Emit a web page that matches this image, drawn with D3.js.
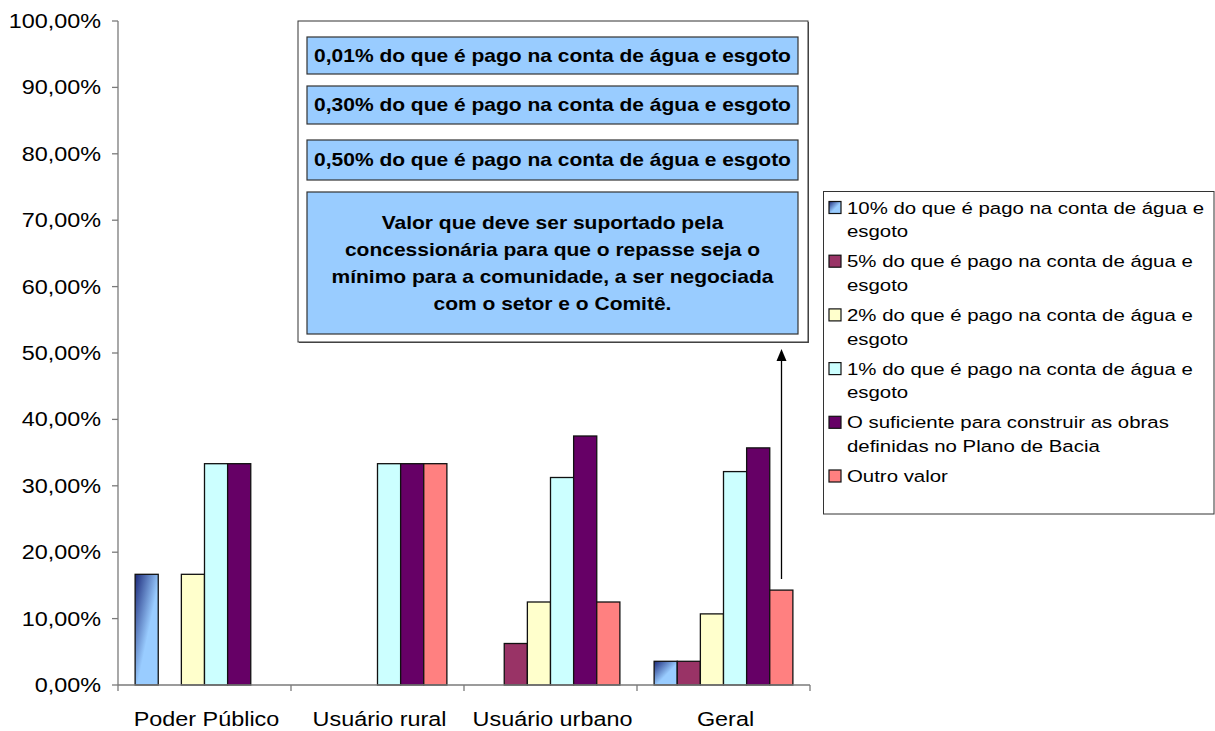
<!DOCTYPE html>
<html>
<head>
<meta charset="utf-8">
<script src="https://cdn.jsdelivr.net/npm/d3@7"></script>
<style>
  html, body { margin: 0; padding: 0; background: #fff; }
  svg { display: block; font-family: "Liberation Sans", Arial, sans-serif; }
</style>
</head>
<body>
<svg id="chart" width="1215" height="731"></svg>
<script>
// ---- DATA ----
const categories = ["Poder Público", "Usuário rural", "Usuário urbano", "Geral"];
const seriesNames = [
  "10% do que é pago na conta de água e esgoto",
  "5% do que é pago na conta de água e esgoto",
  "2% do que é pago na conta de água e esgoto",
  "1% do que é pago na conta de água e esgoto",
  "O suficiente para construir as obras definidas no Plano de Bacia",
  "Outro valor"
];
const legendLines = [
  ["10% do que é pago na conta de água e", "esgoto"],
  ["5% do que é pago na conta de água e", "esgoto"],
  ["2% do que é pago na conta de água e", "esgoto"],
  ["1% do que é pago na conta de água e", "esgoto"],
  ["O suficiente para construir as obras", "definidas no Plano de Bacia"],
  ["Outro valor"]
];
// values per series, in category order (fractions)
const s10pct   = [0.1667, 0,      0,      0.0357];
const s5pct    = [0,      0,      0.0625, 0.0357];
const s2pct    = [0.1667, 0,      0.125,  0.1071];
const s1pct    = [0.3333, 0.3333, 0.3125, 0.3214];
const sSufic   = [0.3333, 0.3333, 0.375,  0.3571];
const sOutro   = [0,      0.3333, 0.125,  0.1429];
const yTicks = [0, 0.1, 0.2, 0.3, 0.4, 0.5, 0.6, 0.7, 0.8, 0.9, 1.0];
const annotationBoxes = [
  ["0,01% do que é pago na conta de água e esgoto"],
  ["0,30% do que é pago na conta de água e esgoto"],
  ["0,50% do que é pago na conta de água e esgoto"],
  ["Valor que deve ser suportado pela", "concessionária para que o repasse seja o",
   "mínimo para a comunidade, a ser negociada", "com o setor e o Comitê."]
];

const seriesValues = [s10pct, s5pct, s2pct, s1pct, sSufic, sOutro];
const colors = ["url(#gradBlue)", "#993366", "#ffffcc", "#ccffff", "#660066", "#ff8080"];

// ---- LAYOUT ----
const svg = d3.select("#chart");
const SX = 1.2; // horizontal stretch of the original rendering's text

const plot = {left: 118, right: 810, top: 21, bottom: 685};

const defs = svg.append("defs");
const g1 = defs.append("linearGradient").attr("id", "gradBlue")
  .attr("x1", 0).attr("y1", 0).attr("x2", 1).attr("y2", 1);
g1.append("stop").attr("offset", 0).attr("stop-color", "#1b2878");
g1.append("stop").attr("offset", 0.55).attr("stop-color", "#99ccff");
g1.append("stop").attr("offset", 1).attr("stop-color", "#99ccff");

const x0 = d3.scaleBand().domain(categories).range([plot.left, plot.right])
  .paddingInner(0).paddingOuter(0);
const x1 = d3.scaleBand().domain(d3.range(seriesNames.length)).range([0, x0.bandwidth()])
  .paddingInner(0).paddingOuter(0.74);
const y = d3.scaleLinear().domain([0, 1]).range([plot.bottom, plot.top]);

function stretchedText(sel, x, yy, txt, anchor, size, weight) {
  return sel.append("text")
    .attr("transform", `translate(${x},${yy}) scale(${SX},1)`)
    .attr("text-anchor", anchor)
    .attr("font-size", size)
    .attr("font-weight", weight || "normal")
    .attr("fill", "#000")
    .text(txt);
}

// bars
const bars = svg.append("g");
categories.forEach((c, ci) => {
  seriesValues.forEach((vals, si) => {
    const v = vals[ci];
    if (v <= 0) return;
    bars.append("rect")
      .attr("x", x0(c) + x1(si))
      .attr("y", y(v))
      .attr("width", x1.bandwidth())
      .attr("height", y(0) - y(v))
      .attr("fill", colors[si])
      .attr("stroke", "#111")
      .attr("stroke-width", 1.3);
  });
});

// y axis
const axisColor = "#7a7a7a";
const yAxis = svg.append("g");
yAxis.append("line").attr("x1", plot.left).attr("x2", plot.left)
  .attr("y1", plot.top).attr("y2", plot.bottom).attr("stroke", axisColor).attr("stroke-width", 1.3);
yTicks.forEach(t => {
  yAxis.append("line").attr("x1", plot.left - 6).attr("x2", plot.left)
    .attr("y1", y(t)).attr("y2", y(t)).attr("stroke", axisColor).attr("stroke-width", 1.3);
  stretchedText(yAxis, 101, y(t) + 7, d3.format(".2f")(t * 100).replace(".", ",") + "%", "end", 19.5);
});

// x axis
const xAxis = svg.append("g");
xAxis.append("line").attr("x1", plot.left).attr("x2", plot.right)
  .attr("y1", plot.bottom).attr("y2", plot.bottom).attr("stroke", axisColor).attr("stroke-width", 1.3);
const bounds = categories.map(c => x0(c)).concat([x0(categories[categories.length - 1]) + x0.bandwidth()]);
bounds.forEach(bx => {
  xAxis.append("line").attr("x1", bx).attr("x2", bx)
    .attr("y1", plot.bottom).attr("y2", plot.bottom + 6).attr("stroke", axisColor).attr("stroke-width", 1.3);
});
categories.forEach(c => {
  stretchedText(xAxis, x0(c) + x0.bandwidth() / 2 + 2, 726, c, "middle", 19.5);
});

// annotation box
const ann = svg.append("g");
ann.append("rect").attr("x", 299).attr("y", 22).attr("width", 510).attr("height", 321).attr("fill", "#555");
ann.append("rect").attr("x", 298).attr("y", 21).attr("width", 510).attr("height", 321)
  .attr("fill", "#fff").attr("stroke", "#333").attr("stroke-width", 1);
const boxY = [[37, 74], [86, 124], [140, 180], [192, 334]];
annotationBoxes.forEach((lines, i) => {
  const [t, b] = boxY[i];
  ann.append("rect").attr("x", 307).attr("y", t).attr("width", 491).attr("height", b - t)
    .attr("fill", "#99ccff").attr("stroke", "#333").attr("stroke-width", 1.2);
  const cx = 552.5;
  const mid = (t + b) / 2;
  const lh = 27;
  const start = mid - (lines.length - 1) * lh / 2 + 6.3;
  lines.forEach((ln, li) => {
    stretchedText(ann, cx, start + li * lh, ln, "middle", 17.5, "bold");
  });
});

// arrow
const arr = svg.append("g");
arr.append("line").attr("x1", 781.5).attr("x2", 781.5).attr("y1", 579).attr("y2", 358)
  .attr("stroke", "#000").attr("stroke-width", 1.3);
arr.append("path").attr("d", "M781.5,349 L776.5,361 L786.5,361 Z").attr("fill", "#000");

// legend
const leg = svg.append("g");
leg.append("rect").attr("x", 823.5).attr("y", 191.5).attr("width", 390.5).attr("height", 322.5)
  .attr("fill", "#fff").attr("stroke", "#333").attr("stroke-width", 1);
legendLines.forEach((lines, i) => {
  const base = 213.5 + i * 53.7;
  leg.append("rect").attr("x", 829).attr("y", base - 12).attr("width", 12).attr("height", 12)
    .attr("fill", colors[i]).attr("stroke", "#111").attr("stroke-width", 1.2);
  lines.forEach((ln, li) => {
    stretchedText(leg, 847, base + li * 23.8, ln, "start", 17);
  });
});
</script>
</body>
</html>
